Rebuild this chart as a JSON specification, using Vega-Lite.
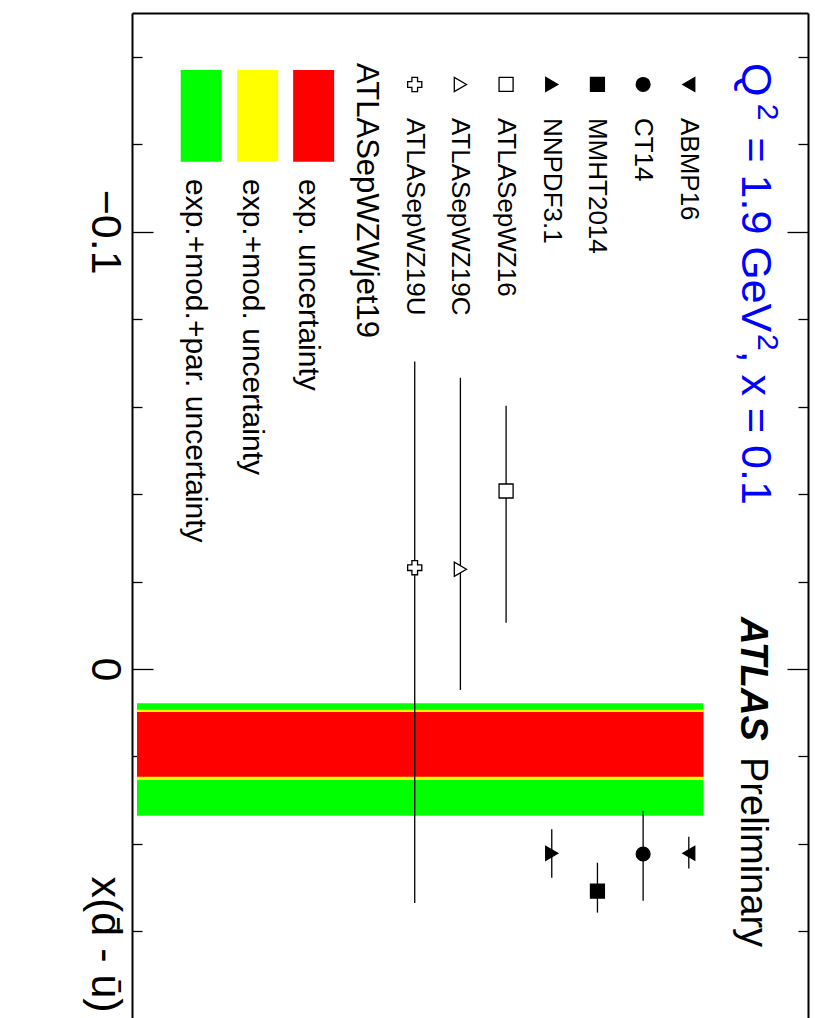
{
  "$schema": "https://vega.github.io/schema/vega-lite/v6.json",
  "autosize": {"type": "none"},
  "padding": {"left": 132, "top": 13, "right": 7, "bottom": 0},
  "width": 676,
  "height": 1005,
  "background": "white",
  "config": {"view": {"stroke": null}, "font": "Arial, 'Liberation Sans', Helvetica, sans-serif"},
  "datasets": {
    "pdfs": [
      {"pdf": "ABMP16", "slot": 12, "val": 0.04215, "lo": 0.03834, "hi": 0.04559},
      {"pdf": "CT14", "slot": 11, "val": 0.0423, "lo": 0.03247, "hi": 0.053},
      {"pdf": "MMHT2014", "slot": 10, "val": 0.05077, "lo": 0.0443, "hi": 0.0557},
      {"pdf": "NNPDF3.1", "slot": 9, "val": 0.04215, "lo": 0.03666, "hi": 0.04772},
      {"pdf": "ATLASepWZ16", "slot": 8, "val": -0.0407, "lo": -0.0602, "hi": -0.0106},
      {"pdf": "ATLASepWZ19C", "slot": 7, "val": -0.0228, "lo": -0.0666, "hi": 0.0048},
      {"pdf": "ATLASepWZ19U", "slot": 6, "val": -0.02317, "lo": -0.0703, "hi": 0.0535}
    ],
    "bands": [
      {"band": "exp.+mod.+par. uncertainty", "lo": 0.00784, "hi": 0.03355, "lslot": 1.326},
      {"band": "exp.+mod. uncertainty", "lo": 0.00931, "hi": 0.02538, "lslot": 2.562},
      {"band": "exp. uncertainty", "lo": 0.00983, "hi": 0.02463, "lslot": 3.787}
    ]
  },
  "resolve": {"axis": {"x": "independent", "y": "independent"}},
  "layer": [
    {
      "data": {"name": "bands"},
      "mark": {"type": "rect"},
      "encoding": {
        "x": {"datum": -0.08, "type": "quantitative", "scale": {"domain": [-0.08, 14.5], "nice": false, "zero": false}, "axis": null},
        "x2": {"datum": 12.32},
        "y": {"field": "lo", "type": "quantitative", "scale": {"domain": [-0.15, 0.0798], "nice": false, "zero": false, "reverse": true}, "axis": null},
        "y2": {"field": "hi"},
        "color": {"field": "band", "type": "nominal", "scale": {"domain": ["exp.+mod.+par. uncertainty", "exp.+mod. uncertainty", "exp. uncertainty"], "range": ["#00ff00", "#ffff00", "#ff0000"]}, "legend": null}
      }
    },
    {
      "data": {"name": "pdfs"},
      "mark": {"type": "rule", "color": "black", "strokeWidth": 1.3},
      "encoding": {
        "x": {"field": "slot", "type": "quantitative", "scale": {"domain": [-0.08, 14.5], "nice": false, "zero": false},
          "axis": {"orient": "top", "ticks": false, "labels": false, "title": null, "grid": false, "domainColor": "black", "domainWidth": 2}},
        "y": {"field": "lo", "type": "quantitative", "scale": {"domain": [-0.15, 0.0798], "nice": false, "zero": false, "reverse": true},
          "axis": {
            "orient": "left",
            "values": [-0.14, -0.12, -0.1, -0.08, -0.06, -0.04, -0.02, 0, 0.02, 0.04, 0.06],
            "labelExpr": "abs(datum.value) < 1e-6 ? '0' : (abs(datum.value + 0.1) < 1e-6 ? '\u22120.1' : '')",
            "labelAngle": 90, "labelAlign": "center", "labelBaseline": "alphabetic",
            "labelFont": "Arial, 'Liberation Sans', Helvetica, sans-serif", "labelFontSize": 43, "labelColor": "black", "labelPadding": 62,
            "labelOverlap": false, "labelFlush": false, "labelBound": false,
            "tickSize": {"condition": {"test": "abs(datum.value) < 1e-6 || abs(datum.value + 0.1) < 1e-6", "value": -21}, "value": -10},
            "tickColor": "black", "tickWidth": 1.3,
            "domainColor": "black", "domainWidth": 2, "grid": false,
            "title": "x(d\u0304 - \u016b)", "titleFont": "Arial, 'Liberation Sans', Helvetica, sans-serif", "titleFontSize": 43, "titleFontWeight": "normal", "titleColor": "black",
            "titleAngle": 90, "titleAlign": "left", "titleBaseline": "alphabetic", "titleX": -41, "titleY": 863
          }},
        "y2": {"field": "hi"}
      }
    },
    {
      "data": {"name": "pdfs"},
      "mark": {"type": "point", "filled": true, "stroke": "black", "strokeWidth": 1.3, "opacity": 1},
      "encoding": {
        "x": {"field": "slot", "type": "quantitative", "scale": {"domain": [-0.08, 14.5], "nice": false, "zero": false}, "axis": null},
        "y": {"field": "val", "type": "quantitative", "scale": {"domain": [-0.15, 0.0798], "nice": false, "zero": false, "reverse": true},
          "axis": {
            "orient": "right",
            "values": [-0.14, -0.12, -0.1, -0.08, -0.06, -0.04, -0.02, 0, 0.02, 0.04, 0.06],
            "labels": false,
            "tickSize": {"condition": {"test": "abs(datum.value) < 1e-6 || abs(datum.value + 0.1) < 1e-6", "value": -21}, "value": -10},
            "tickColor": "black", "tickWidth": 1.3,
            "domainColor": "black", "domainWidth": 2, "grid": false, "title": null
          }},
        "shape": {"field": "pdf", "type": "nominal", "scale": {"domain": ["ABMP16", "CT14", "MMHT2014", "NNPDF3.1", "ATLASepWZ16", "ATLASepWZ19C", "ATLASepWZ19U"], "range": ["triangle-left", "circle", "square", "triangle-right", "square", "triangle-right", "cross"]}, "legend": null},
        "fill": {"field": "pdf", "type": "nominal", "scale": {"domain": ["ABMP16", "CT14", "MMHT2014", "NNPDF3.1", "ATLASepWZ16", "ATLASepWZ19C", "ATLASepWZ19U"], "range": ["black", "black", "black", "black", "white", "white", "white"]}, "legend": null},
        "size": {"field": "pdf", "type": "nominal", "scale": {"domain": ["ABMP16", "CT14", "MMHT2014", "NNPDF3.1", "ATLASepWZ16", "ATLASepWZ19C", "ATLASepWZ19U"], "range": [190, 200, 190, 190, 210, 231, 231]}, "legend": null}
      }
    },
    {
      "data": {"name": "pdfs"},
      "mark": {"type": "point", "filled": true, "stroke": "black", "strokeWidth": 1.3, "opacity": 1},
      "encoding": {
        "x": {"field": "slot", "type": "quantitative", "scale": {"domain": [-0.08, 14.5], "nice": false, "zero": false}, "axis": null},
        "y": {"datum": -0.13366, "type": "quantitative", "scale": {"domain": [-0.15, 0.0798], "nice": false, "zero": false, "reverse": true}, "axis": null},
        "shape": {"field": "pdf", "type": "nominal", "scale": {"domain": ["ABMP16", "CT14", "MMHT2014", "NNPDF3.1", "ATLASepWZ16", "ATLASepWZ19C", "ATLASepWZ19U"], "range": ["triangle-left", "circle", "square", "triangle-right", "square", "triangle-right", "cross"]}, "legend": null},
        "fill": {"field": "pdf", "type": "nominal", "scale": {"domain": ["ABMP16", "CT14", "MMHT2014", "NNPDF3.1", "ATLASepWZ16", "ATLASepWZ19C", "ATLASepWZ19U"], "range": ["black", "black", "black", "black", "white", "white", "white"]}, "legend": null},
        "size": {"field": "pdf", "type": "nominal", "scale": {"domain": ["ABMP16", "CT14", "MMHT2014", "NNPDF3.1", "ATLASepWZ16", "ATLASepWZ19C", "ATLASepWZ19U"], "range": [190, 200, 190, 190, 210, 231, 231]}, "legend": null}
      }
    },
    {
      "data": {"name": "pdfs"},
      "mark": {"type": "text", "angle": 90, "align": "left", "baseline": "middle", "fontSize": 26, "color": "black"},
      "encoding": {
        "x": {"field": "slot", "type": "quantitative", "scale": {"domain": [-0.08, 14.5], "nice": false, "zero": false}, "axis": null},
        "y": {"datum": -0.126, "type": "quantitative", "scale": {"domain": [-0.15, 0.0798], "nice": false, "zero": false, "reverse": true}, "axis": null},
        "text": {"field": "pdf"}
      }
    },
    {
      "data": {"name": "bands"},
      "mark": {"type": "bar", "width": 41},
      "encoding": {
        "x": {"field": "lslot", "type": "quantitative", "scale": {"domain": [-0.08, 14.5], "nice": false, "zero": false}, "axis": null},
        "y": {"datum": -0.13698, "type": "quantitative", "scale": {"domain": [-0.15, 0.0798], "nice": false, "zero": false, "reverse": true}, "axis": null},
        "y2": {"datum": -0.116},
        "color": {"field": "band", "type": "nominal", "scale": {"domain": ["exp.+mod.+par. uncertainty", "exp.+mod. uncertainty", "exp. uncertainty"], "range": ["#00ff00", "#ffff00", "#ff0000"]}, "legend": null}
      }
    },
    {
      "data": {"name": "bands"},
      "mark": {"type": "text", "angle": 90, "align": "left", "baseline": "alphabetic", "dy": 15, "fontSize": 30, "color": "black"},
      "encoding": {
        "x": {"field": "lslot", "type": "quantitative", "scale": {"domain": [-0.08, 14.5], "nice": false, "zero": false}, "axis": null},
        "y": {"datum": -0.11205, "type": "quantitative", "scale": {"domain": [-0.15, 0.0798], "nice": false, "zero": false, "reverse": true}, "axis": null},
        "text": {"field": "band"}
      }
    },
    {
      "data": {"values": [{"label": "ATLASepWZWjet19"}]},
      "mark": {"type": "text", "angle": 90, "align": "left", "baseline": "alphabetic", "fontSize": 31, "color": "black"},
      "encoding": {
        "x": {"datum": 4.73, "type": "quantitative", "scale": {"domain": [-0.08, 14.5], "nice": false, "zero": false}, "axis": null},
        "y": {"datum": -0.13858, "type": "quantitative", "scale": {"domain": [-0.15, 0.0798], "nice": false, "zero": false, "reverse": true}, "axis": null},
        "text": {"field": "label"}
      }
    },
    {
      "data": {"values": [{"label": "Q"}]},
      "mark": {"type": "text", "angle": 90, "align": "left", "baseline": "alphabetic", "fontSize": 43, "color": "#0000ff"},
      "encoding": {
        "x": {"datum": 13.174, "type": "quantitative", "scale": {"domain": [-0.08, 14.5], "nice": false, "zero": false}, "axis": null},
        "y": {"datum": -0.13858, "type": "quantitative", "scale": {"domain": [-0.15, 0.0798], "nice": false, "zero": false, "reverse": true}, "axis": null},
        "text": {"field": "label"}
      }
    },
    {
      "data": {"values": [{"label": "2"}]},
      "mark": {"type": "text", "angle": 90, "align": "left", "baseline": "alphabetic", "fontSize": 30, "color": "#0000ff"},
      "encoding": {
        "x": {"datum": 13.508, "type": "quantitative", "scale": {"domain": [-0.08, 14.5], "nice": false, "zero": false}, "axis": null},
        "y": {"datum": -0.12927, "type": "quantitative", "scale": {"domain": [-0.15, 0.0798], "nice": false, "zero": false, "reverse": true}, "axis": null},
        "text": {"field": "label"}
      }
    },
    {
      "data": {"values": [{"label": "= 1.9 GeV"}]},
      "mark": {"type": "text", "angle": 90, "align": "left", "baseline": "alphabetic", "fontSize": 43, "color": "#0000ff"},
      "encoding": {
        "x": {"datum": 13.174, "type": "quantitative", "scale": {"domain": [-0.08, 14.5], "nice": false, "zero": false}, "axis": null},
        "y": {"datum": -0.12154, "type": "quantitative", "scale": {"domain": [-0.15, 0.0798], "nice": false, "zero": false, "reverse": true}, "axis": null},
        "text": {"field": "label"}
      }
    },
    {
      "data": {"values": [{"label": "2"}]},
      "mark": {"type": "text", "angle": 90, "align": "left", "baseline": "alphabetic", "fontSize": 30, "color": "#0000ff"},
      "encoding": {
        "x": {"datum": 13.508, "type": "quantitative", "scale": {"domain": [-0.08, 14.5], "nice": false, "zero": false}, "axis": null},
        "y": {"datum": -0.0766, "type": "quantitative", "scale": {"domain": [-0.15, 0.0798], "nice": false, "zero": false, "reverse": true}, "axis": null},
        "text": {"field": "label"}
      }
    },
    {
      "data": {"values": [{"label": ", x = 0.1"}]},
      "mark": {"type": "text", "angle": 90, "align": "left", "baseline": "alphabetic", "fontSize": 43, "color": "#0000ff"},
      "encoding": {
        "x": {"datum": 13.174, "type": "quantitative", "scale": {"domain": [-0.08, 14.5], "nice": false, "zero": false}, "axis": null},
        "y": {"datum": -0.07279, "type": "quantitative", "scale": {"domain": [-0.15, 0.0798], "nice": false, "zero": false, "reverse": true}, "axis": null},
        "text": {"field": "label"}
      }
    },
    {
      "data": {"values": [{"label": "ATLAS"}]},
      "mark": {"type": "text", "angle": 90, "align": "left", "baseline": "alphabetic", "fontSize": 38, "fontWeight": "bold", "fontStyle": "italic", "color": "black"},
      "encoding": {
        "x": {"datum": 13.142, "type": "quantitative", "scale": {"domain": [-0.08, 14.5], "nice": false, "zero": false}, "axis": null},
        "y": {"datum": -0.01189, "type": "quantitative", "scale": {"domain": [-0.15, 0.0798], "nice": false, "zero": false, "reverse": true}, "axis": null},
        "text": {"field": "label"}
      }
    },
    {
      "data": {"values": [{"label": "Preliminary"}]},
      "mark": {"type": "text", "angle": 90, "align": "left", "baseline": "alphabetic", "fontSize": 38, "color": "black"},
      "encoding": {
        "x": {"datum": 13.142, "type": "quantitative", "scale": {"domain": [-0.08, 14.5], "nice": false, "zero": false}, "axis": null},
        "y": {"datum": 0.02012, "type": "quantitative", "scale": {"domain": [-0.15, 0.0798], "nice": false, "zero": false, "reverse": true}, "axis": null},
        "text": {"field": "label"}
      }
    }
  ]
}
